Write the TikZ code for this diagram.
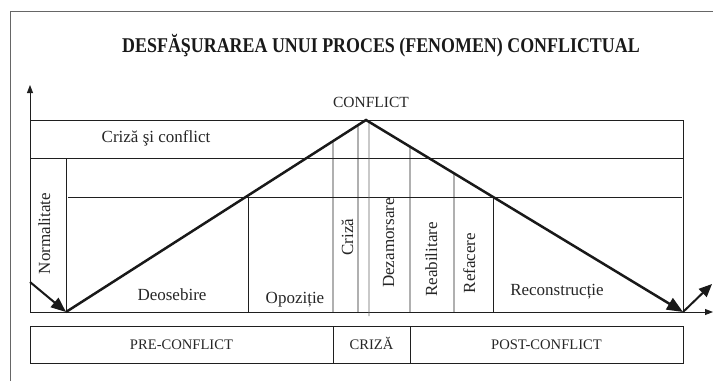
\documentclass[tikz,border=0pt]{standalone}
\usepackage{fontspec}
\setmainfont{Liberation Serif}
\usetikzlibrary{arrows.meta,calc}
\begin{document}
\begin{tikzpicture}[x=1pt,y=-1pt,
  thinline/.style={line width=0.9pt, draw=black!88},
  frameline/.style={line width=1pt, draw=black!60},
  vline/.style={line width=2.5pt, draw=black!90, line join=miter},
  bigarrow/.style={line width=2pt, draw=black!90, -{Triangle[length=15pt,width=12pt]}},
  axisarrow/.style={thinline, -{Triangle[length=8pt,width=6pt]}},
  lbl/.style={font=\fontsize{17}{17}\selectfont, inner sep=0pt, text=black!85, anchor=base},
  rot/.style={lbl, rotate=90},
  uplbl/.style={font=\fontsize{14.6}{14.6}\selectfont, inner sep=0pt, text=black!85},
  cell/.style={uplbl, draw=black!88, line width=0.9pt, minimum height=37pt, text height=10pt, text depth=0pt}]
\useasboundingbox (0,0) rectangle (713,381);
% page frame
\draw[frameline] (10,381) -- (10,11) -- (713,11);
% title
\node[inner sep=0pt, anchor=base, text=black!90] (title) at (381,52)
  {\scalebox{0.853}[1]{\fontsize{21}{22}\selectfont\bfseries DESFĂŞURAREA UNUI PROCES (FENOMEN) CONFLICTUAL}};
% key points
\coordinate (O) at (30,312);
\coordinate (ytip) at (30,85);
\coordinate (xtip) at (713,312);
\coordinate (L) at (66,312);
\coordinate (P) at (366,120);
\coordinate (R) at (683,312);
\coordinate (in) at (30,282);
\coordinate (out) at (712,284);
% axes
\draw[axisarrow] (O) -- (ytip);
\draw[axisarrow] (O) -- (xtip);
% upper box
\draw[thinline] (30,120) -- (683,120) -- (R);
\draw[thinline] (30,158) -- (683,158);
\draw[thinline] (68,197) -- (682,197);
% vertical dividers
\draw[thinline] (66,158) -- (L);
\draw[thinline] (248,197) -- (248,312);
\draw[thinline] ($(L)!0.89!(P)$) -- (333,312);
\draw[thinline] ($(L)!0.9733!(P)$) -- (358,312);
\draw[thinline, draw=black!60] ($(P)!0.00946!(R)$) -- (369,316);
\draw[thinline] ($(P)!0.1388!(R)$) -- (410,312);
\draw[thinline] ($(P)!0.2776!(R)$) -- (454,312);
\draw[thinline] (493,197) -- (493,312);
% main curve
\draw[vline, -{Triangle[length=16pt,width=13pt]}] (L) -- (P) -- (R);
\draw[bigarrow] (in) -- (L);
\draw[bigarrow, -{Triangle[length=13pt,width=11pt]}] (R) -- (out);
% labels
\node[uplbl, anchor=base, font=\fontsize{15.5}{15.5}\selectfont] (conf) at (371,107) {CONFLICT};
\node[lbl] (cc) at (156,142) {Criză şi conflict};
\node[lbl] (deo) at (172,300) {Deosebire};
\node[lbl] (opo) at (295,303) {Opoziție};
\node[lbl] (rec) at (557,295) {Reconstrucție};
\node[rot] (norm) at (50,233.5) {Normalitate};
\node[rot] (criza) at (353,237) {Criză};
\node[rot] (dez) at (394,243) {Dezamorsare};
\node[rot] (reab) at (437,259.5) {Reabilitare};
\node[rot] (ref) at (475,263) {Refacere};
% bottom phases
\node[cell, minimum width=303pt] (pre) at (181.5,344.5) {PRE-CONFLICT};
\node[cell, minimum width=77pt] (cr) at (371.5,344.5) {CRIZĂ};
\node[cell, minimum width=273pt] (post) at (546.5,344.5) {POST-CONFLICT};
\end{tikzpicture}
\end{document}
